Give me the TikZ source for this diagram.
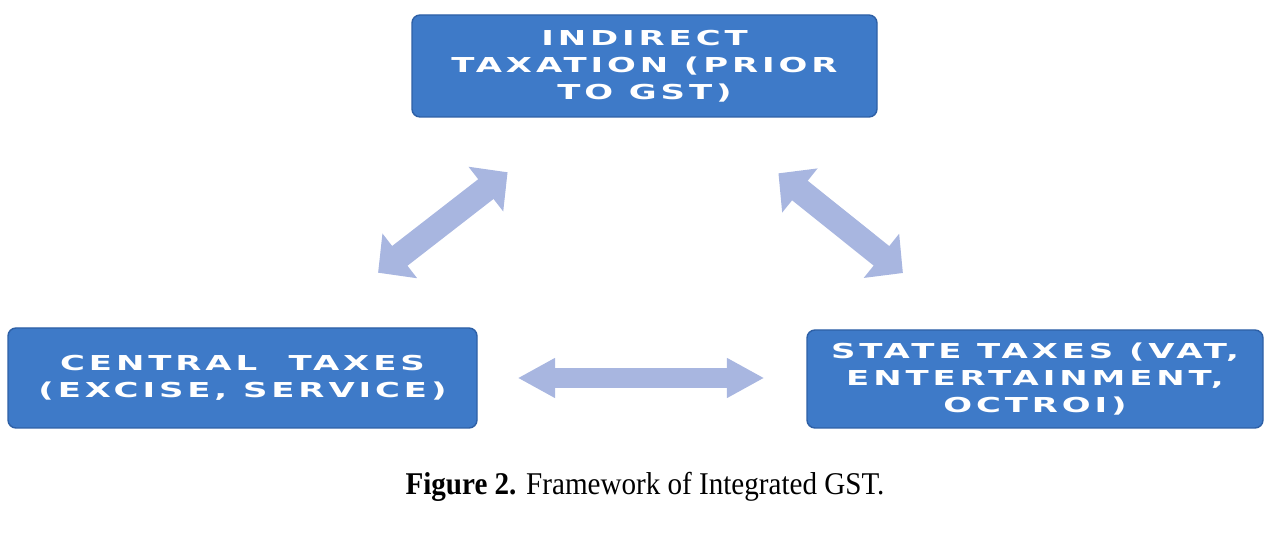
\documentclass[tikz,border=0pt]{standalone}
\usepackage{fontspec}
\setmainfont{Liberation Serif}
\newfontfamily\boxfont[FakeStretch=1.65,LetterSpace=19]{DejaVu Sans}
\newfontfamily\capfont[FakeStretch=0.92]{Liberation Serif}
\usetikzlibrary{arrows.meta}
\definecolor{boxblue}{RGB}{62,122,200}
\definecolor{boxedge}{RGB}{46,96,166}
\definecolor{arrowblue}{RGB}{168,182,224}

\begin{document}
\begin{tikzpicture}[
    taxbox/.style={draw=boxedge, line width=0.8pt, fill=boxblue, rounded corners=0.16cm,
        text=white, align=center, inner sep=0pt,
        font=\boxfont\bfseries\fontsize{11.7}{15.3}\selectfont},
    bigarrow/.style={draw=arrowblue, line width=0.5cm,
        {Triangle[width=1.1cm,length=0.55cm]}-{Triangle[width=1.1cm,length=0.55cm]}},
    flatarrow/.style={draw=arrowblue, line width=0.4cm,
        {Triangle[width=0.75cm,length=0.75cm]}-{Triangle[width=0.75cm,length=0.75cm]}}
]
    \useasboundingbox (0,0) rectangle (25.3,11.04);
    \node[taxbox, minimum width=9.3cm, minimum height=2.04cm] (ind) at (12.89,9.72)
        {INDIRECT\\TAXATION (PRIOR\\TO GST)};
    \node[taxbox, minimum width=9.38cm, minimum height=2.0cm] (cen) at (4.85,3.48)
        {CENTRAL\ \ TAXES\\(EXCISE, SERVICE)};
    \node[taxbox, minimum width=9.12cm, minimum height=1.96cm] (sta) at (20.7,3.46)
        {STATE TAXES (VAT,\\ENTERTAINMENT,\\OCTROI)};
    \draw[bigarrow, shorten <=1.78cm, shorten >=1.78cm] (cen) -- (ind);
    \draw[bigarrow, shorten <=1.78cm, shorten >=1.8cm] (ind) -- (sta);
    \draw[flatarrow, shorten <=0.8cm, shorten >=0.84cm] (cen.east) -- (cen.east -| sta.west);
    \node[font=\capfont\fontsize{18}{20}\selectfont] (cap) at (12.9,1.3)
        {\textbf{Figure 2.} Framework of Integrated GST.};
\end{tikzpicture}
\end{document}
